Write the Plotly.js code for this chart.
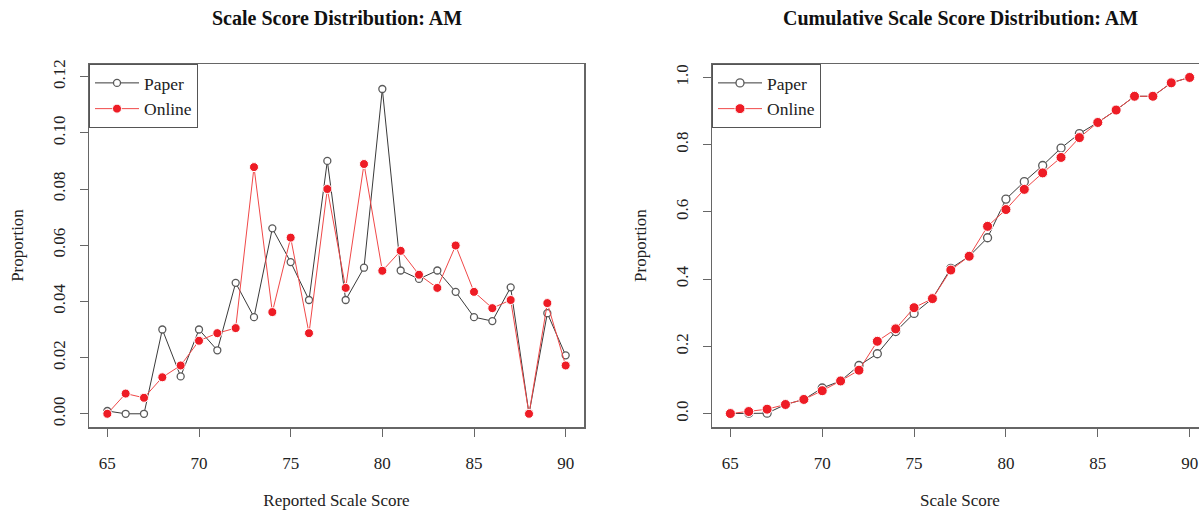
<!DOCTYPE html>
<html>
<head>
<meta charset="utf-8">
<script src="https://cdn.plot.ly/plotly-3.0.1.min.js"></script>
<style>
  html, body { margin: 0; padding: 0; overflow: hidden; background: #fff; }
  #chart { width: 1215px; height: 511px; }
</style>
</head>
<body>
<div id="chart"></div>
<script>
// Scale scores (x values)
const scores = [65,66,67,68,69,70,71,72,73,74,75,76,77,78,79,80,81,82,83,84,85,86,87,88,89,90];

// Proportion at each score
const paperProp  = [0.001,0.000,0.000,0.030,0.0133,0.030,0.0226,0.0466,0.0344,0.066,0.054,0.0405,0.090,0.0405,0.052,0.1156,0.051,0.048,0.051,0.0434,0.0344,0.033,0.045,0.000,0.0358,0.0208];
const onlineProp = [0.000,0.0072,0.0057,0.013,0.0172,0.026,0.0287,0.0305,0.0878,0.0362,0.0627,0.0287,0.080,0.0448,0.0889,0.0509,0.058,0.0495,0.0448,0.0599,0.0434,0.0376,0.0405,0.000,0.0394,0.0172];

// Cumulative proportion at each score
const paperCum  = [0.000,0.001,0.001,0.027,0.042,0.076,0.097,0.143,0.178,0.244,0.298,0.342,0.432,0.468,0.523,0.638,0.690,0.738,0.790,0.833,0.866,0.903,0.944,0.944,0.984,1.000];
const onlineCum = [0.000,0.006,0.013,0.027,0.042,0.068,0.097,0.129,0.215,0.252,0.315,0.342,0.427,0.468,0.557,0.607,0.667,0.716,0.762,0.821,0.866,0.903,0.944,0.944,0.984,1.000];

// Text
const seriesNames = ["Paper", "Online"];
const leftTitle = "Scale Score Distribution: AM";
const rightTitle = "Cumulative Scale Score Distribution: AM";
const leftXTitle = "Reported Scale Score";
const rightXTitle = "Scale Score";
const yTitle = "Proportion";
const xTicks = [65,70,75,80,85,90];
const leftYTicks = [0,0.02,0.04,0.06,0.08,0.10,0.12];
const rightYTicks = [0,0.2,0.4,0.6,0.8,1.0];

const FONT = "Liberation Serif, Times New Roman, serif";
const AX = "#666666";
const RED = "#ee1c25";

function paperTrace(y, xa, ya, leg, size) {
  return {
    x: scores, y: y, xaxis: xa, yaxis: ya, legend: leg,
    type: "scatter", mode: "lines+markers", name: seriesNames[0],
    line: { color: "#3a3a3a", width: 1 },
    marker: { symbol: "circle", size: size, color: "#ffffff", line: { color: "#5a5a5a", width: 1.3 } }
  };
}
function onlineTrace(y, xa, ya, leg, size) {
  return {
    x: scores, y: y, xaxis: xa, yaxis: ya, legend: leg,
    type: "scatter", mode: "lines+markers", name: seriesNames[1],
    line: { color: "#f04848", width: 1 },
    marker: { symbol: "circle", size: size, color: RED, line: { color: "#ffffff", width: 1 } }
  };
}

const data = [
  paperTrace(paperProp, "x", "y", "legend", 7),
  onlineTrace(onlineProp, "x", "y", "legend", 9),
  paperTrace(paperCum, "x2", "y2", "legend2", 8),
  onlineTrace(onlineCum, "x2", "y2", "legend2", 10)
];

function xAxis(domain, anchor, title) {
  return {
    domain: domain, anchor: anchor, range: [64, 91],
    tickmode: "array", tickvals: xTicks, ticktext: xTicks.map(String),
    ticks: "outside", ticklen: 8, tickwidth: 1, tickcolor: AX,
    ticklabelstandoff: 12,
    showline: true, mirror: true, linecolor: AX, linewidth: 1.5,
    showgrid: false, zeroline: false,
    tickfont: { family: FONT, size: 17, color: "#222" },
    title: { text: title, font: { family: FONT, size: 17, color: "#222" }, standoff: 22 }
  };
}
function yAxis(anchor, range, ticks, fmt, standoff) {
  return {
    anchor: anchor, domain: [0, 1], range: range,
    tickmode: "array", tickvals: ticks, ticktext: ticks.map(v => v.toFixed(fmt)),
    tickangle: -90,
    ticks: "outside", ticklen: 8, tickwidth: 1, tickcolor: AX,
    ticklabelstandoff: 8,
    showline: true, mirror: true, linecolor: AX, linewidth: 1.5,
    showgrid: false, zeroline: false,
    tickfont: { family: FONT, size: 17, color: "#222" },
    title: { text: yTitle, font: { family: FONT, size: 17, color: "#222" }, standoff: standoff }
  };
}

const legendStyle = (x) => ({
  x: x, y: 1, xanchor: "left", yanchor: "top", xref: "paper", yref: "paper",
  bgcolor: "#ffffff", bordercolor: "#555555", borderwidth: 1,
  font: { family: FONT, size: 17.5, color: "#222" },
  tracegroupgap: 0, itemwidth: 44
});

const d1 = [0, 495/1119];
const d2 = [623/1119, 1];

const layout = {
  width: 1215, height: 511,
  margin: { l: 89, r: 7, t: 64, b: 84 },
  paper_bgcolor: "#ffffff", plot_bgcolor: "#ffffff",
  showlegend: true,
  xaxis: xAxis(d1, "y", leftXTitle),
  yaxis: yAxis("x", [-0.0047, 0.1245], leftYTicks, 2, 22),
  xaxis2: xAxis(d2, "y2", rightXTitle),
  yaxis2: yAxis("x2", [-0.04, 1.04], rightYTicks, 1, 22),
  legend: legendStyle(0),
  legend2: legendStyle(623/1119),
  annotations: [
    { text: "<b>" + leftTitle + "</b>", xref: "x domain", x: 0.5, yref: "paper", y: (427-18)/363,
      xanchor: "center", yanchor: "middle", showarrow: false,
      font: { family: FONT, size: 20, color: "#111" } },
    { text: "<b>" + rightTitle + "</b>", xref: "x2 domain", x: 0.5, yref: "paper", y: (427-18)/363,
      xanchor: "center", yanchor: "middle", showarrow: false,
      font: { family: FONT, size: 20, color: "#111" } }
  ]
};

Plotly.newPlot("chart", data, layout, { displayModeBar: false, staticPlot: true });
</script>
</body>
</html>
